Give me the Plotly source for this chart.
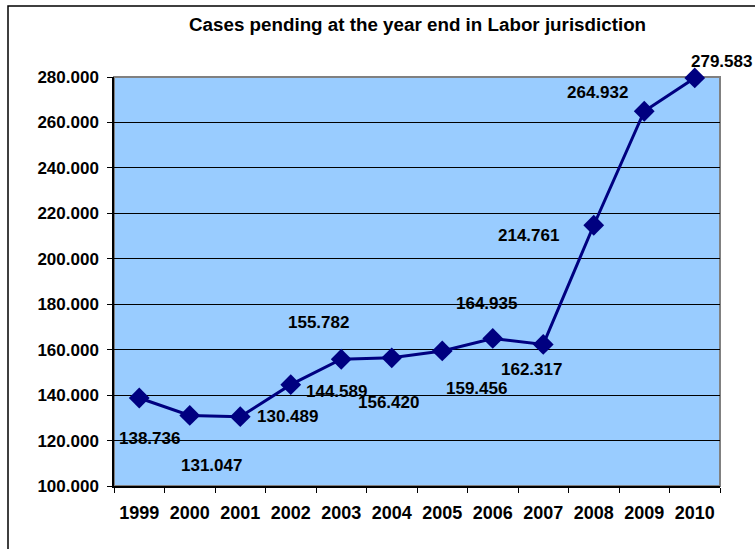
import plotly.graph_objects as go

years = [1999, 2000, 2001, 2002, 2003, 2004, 2005, 2006, 2007, 2008, 2009, 2010]
pending = [138736, 131047, 130489, 144589, 155782, 156420, 159456, 164935, 162317, 214761, 264932, 279583]
y_ticks = [100000, 120000, 140000, 160000, 180000, 200000, 220000, 240000, 260000, 280000]

# label offsets in pixels (placement style only)
label_dx = [10, 22, 47, 46, -23, -3, 34, -6, -12, -65, -47, 27]
label_dy = [-41, -50, 0, -7, 37, -45, -38, 35, -25, -10, 19, 16]

FONT = "Arial, 'Liberation Sans', sans-serif"

def fmt(v):
    return f"{v:,}".replace(",", ".")

fig = go.Figure()
fig.add_trace(go.Scatter(
    x=years, y=pending, mode="lines+markers",
    line=dict(color="#000080", width=3),
    marker=dict(symbol="diamond", size=16, color="#000080"),
    cliponaxis=False, showlegend=False, hoverinfo="skip"))

annotations = []
for x, v, dx, dy in zip(years, pending, label_dx, label_dy):
    annotations.append(dict(x=x, y=v, xref="x", yref="y", text="<b>" + fmt(v) + "</b>",
                            showarrow=False, xshift=dx, yshift=dy,
                            font=dict(family=FONT, size=17, color="black")))
annotations.append(dict(x=0.5, y=1.0, xref="paper", yref="paper", yanchor="middle",
                        yshift=(77 - 24), text="<b>Cases pending at the year end in Labor jurisdiction</b>",
                        showarrow=False, font=dict(family=FONT, size=18.8, color="black")))

shapes = [
    # gray plot-area border (top/right)
    dict(type="rect", xref="paper", yref="paper", x0=0, x1=1, y0=0, y1=1,
         line=dict(color="#808080", width=2), layer="below"),
    # outer chart frame
    dict(type="rect", xref="paper", yref="paper", x0=(8 - 114) / 606, x1=1.2,
         y0=-0.3, y1=1 + (77 - 6) / 409, line=dict(color="black", width=1.5)),
]

fig.update_layout(
    width=755, height=549,
    margin=dict(l=114, r=35, t=77, b=63),
    paper_bgcolor="white", plot_bgcolor="#99CCFF",
    font=dict(family=FONT, color="black"),
    annotations=annotations, shapes=shapes,
    xaxis=dict(range=[years[0] - 0.5, years[-1] + 0.5],
               tickmode="array", tickvals=years, ticktext=["<b>" + str(y) + "</b>" for y in years],
               ticks="", ticklabelstandoff=10,
               minor=dict(tick0=years[0] - 0.5, dtick=1, ticks="outside", ticklen=5,
                          tickcolor="black", tickwidth=1, showgrid=False),
               showgrid=False, showline=True, linecolor="black", linewidth=1.5, zeroline=False,
               tickfont=dict(family=FONT, size=18, color="black")),
    yaxis=dict(range=[100000, 280000], tickvals=y_ticks,
               ticktext=["<b>" + fmt(t) + "</b>" for t in y_ticks],
               ticks="", ticklabelstandoff=10,
               minor=dict(tickmode="array", tickvals=y_ticks, ticks="outside", ticklen=5,
                          tickcolor="black", tickwidth=1, showgrid=False),
               showgrid=True, gridcolor="black", gridwidth=1,
               showline=True, linecolor="black", linewidth=1.5, zeroline=False,
               tickfont=dict(family=FONT, size=17, color="black")),
)

fig.write_html("out.html", config={"displayModeBar": False},
               post_script="document.body.style.margin='0';document.body.style.overflow='hidden';")
